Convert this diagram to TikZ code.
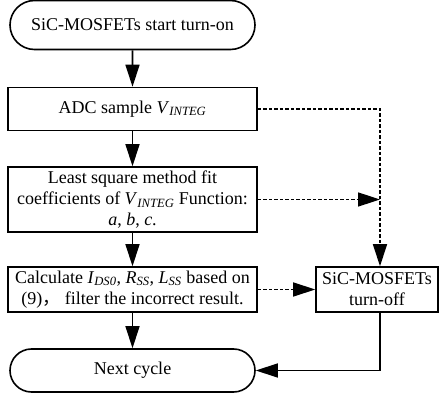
\documentclass[tikz,border=0pt]{standalone}
\usepackage{fontspec}
\setmainfont{Liberation Serif}
\newfontfamily\cjk{Noto Sans CJK SC}
\usetikzlibrary{shapes.misc,arrows.meta}
\newcommand{\varsub}[2]{\textit{#1}\textsubscript{\textit{#2}}}

\begin{document}
\begin{tikzpicture}[x=1pt,y=-1pt,font=\fontsize{18}{21}\selectfont,
  box/.style={draw,line width=1.6pt,minimum width=249pt,align=center,inner sep=2pt},
  term/.style={box,rounded rectangle},
  flow/.style={line width=1.6pt,-{Triangle[length=22pt,width=14pt]}},
  hint/.style={flow,dash pattern=on 3.5pt off 2pt}]
\useasboundingbox (0,0) rectangle (440,406);

\node[term,minimum height=49pt] (start) at (132.5,25) {SiC-MOSFETs start turn-on};
\node[box,minimum height=43pt] (adc) at (132.5,109) {ADC sample \varsub{V}{INTEG}};
\node[box,minimum height=65pt] (lsq) at (132.5,199.5)
  {Least square method fit\\coefficients of \varsub{V}{INTEG} Function:\\\textit{a}, \textit{b}, \textit{c}.};
\node[box,minimum height=45pt] (calc) at (132.5,289.5)
  {Calculate \varsub{I}{DS0}, \varsub{R}{SS}, \varsub{L}{SS} based on\\(9){\cjk ，} filter the incorrect result.};
\node[term,minimum height=43pt] (next) at (132.5,370.5) {Next cycle};
\node[box,minimum width=122pt,minimum height=45pt] (off) at (377,289.5) {SiC-MOSFETs\\turn-off};

\coordinate (tap) at (380,109);

\draw[flow] (start) -- (adc);
\draw[flow] (adc) -- (lsq);
\draw[flow] (lsq) -- (calc);
\draw[flow] (calc) -- (next);

\draw[hint] (adc.east) -| (tap |- off.north);
\draw[hint] (lsq.east) -- (tap |- lsq.east);
\draw[hint] (calc.east) -- (off.west);
\draw[flow] (tap |- off.south) |- (next.east);
\end{tikzpicture}
\end{document}
